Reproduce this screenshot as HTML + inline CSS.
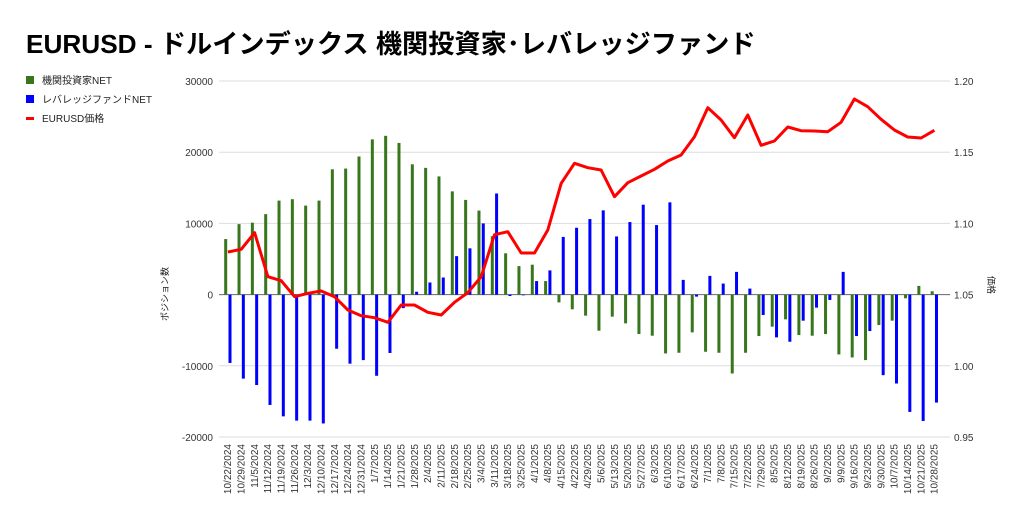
<!DOCTYPE html>
<html><head><meta charset="utf-8"><style>
body{margin:0;background:#fff;width:1024px;height:517px;overflow:hidden;font-family:"Liberation Sans","Noto Sans CJK JP",sans-serif}
</style></head><body>
<svg id="s" width="1024" height="517" xmlns="http://www.w3.org/2000/svg" font-family="Liberation Sans, Noto Sans CJK JP, sans-serif">
<text x="26" y="53" font-size="26.2" font-weight="bold" fill="#000">EURUSD - ドルインデックス 機関投資家･レバレッジファンド</text>
<rect x="26" y="76" width="8" height="8" fill="#38761d"/><text x="42" y="84" font-size="10" fill="#222">機関投資家NET</text>
<rect x="26" y="95" width="8" height="8" fill="#0000ff"/><text x="42" y="103" font-size="10" fill="#222">レバレッジファンドNET</text>
<rect x="26" y="117" width="8" height="3" fill="#ff0000"/><text x="42" y="122" font-size="10" fill="#222">EURUSD価格</text>
<text transform="translate(168,294) rotate(-90)" font-size="9" text-anchor="middle" fill="#222">ポジション数</text>
<text transform="translate(988,285) rotate(90)" font-size="9" text-anchor="middle" fill="#222">価格</text>
<g id="g"></g>
</svg>
<script>
var g=document.getElementById('g'),h='';
var ys=[81,152.2,223.4,294.6,365.8,437],lv=['30000','20000','10000','0','-10000','-20000'],rv=['1.20','1.15','1.10','1.05','1.00','0.95'];
for(var i=0;i<6;i++){h+='<line x1="219" x2="950" y1="'+ys[i]+'" y2="'+ys[i]+'" stroke="'+(i==3?'#666':'#ddd')+'" stroke-width="1"/>';
h+='<text x="213" y="'+(ys[i]+4)+'" font-size="10" text-anchor="end" fill="#333">'+lv[i]+'</text>';
h+='<text x="954" y="'+(ys[i]+4)+'" font-size="10" fill="#333">'+rv[i]+'</text>';}
var G=[718,737,782,740,760,792,797,850,848,787,845,848,910,848,798,770,748,795,797,792,853,862,870,765,752,685,648,664];
var B=[474,448,422,500,457,405,466,398,630,680,618,641,606,656,735,802,815,752,713,690,606,798,783,915,940,1025,1052,997];
var R=[280,293,300,380,338,318,298,273,255,200,113,150,203,135,226,213,171,182,183,185,157,87,110,148,180,201,204,181];
var g1=[7.8,9.9,10.1,11.3,13.2,13.4,12.5,13.2,17.6,17.7,19.4,21.8,22.3,21.3,18.3,17.8,16.6,14.5,13.3,11.8,8.2,5.8,4.0,4.2,1.9,-1.1];
var b1=[-9.6,-11.8,-12.7,-15.5,-17.1,-17.7,-17.7,-18.1,-7.6,-9.7,-9.2,-11.4,-8.2,-1.9,0.4,1.7,2.4,5.4,6.5,10.0,14.2,-0.2,-0.1,1.9,3.4,8.1];
var r1=[546,538,488,620,632,680,670,663,680,720,737,743,757,705,705,727,735,697,668,620,494,485,549,549,480,340];
var gv=g1.slice(),bv=b1.slice(),rp=[];
for(var i=0;i<26;i++)rp.push(70+r1[i]/3);
for(var k=0;k<28;k++){gv.push((674-G[k])/21.3);bv.push((674-B[k])/21.3);rp.push(70+R[k]/3);}
var Z=294.6,S=7.12,pts=[];
var d=new Date(2024,9,22);
for(var i=0;i<54;i++){var x=225.7+13.33*i;
function bar(cx,v,c){var y=Z-v*S;var t=Math.min(y,Z),hh=Math.abs(y-Z);h+='<rect x="'+(cx-1.5)+'" y="'+t+'" width="3" height="'+hh+'" fill="'+c+'"/>';}
bar(x,gv[i],'#38761d');bar(x+4.3,bv[i],'#0000ff');
pts.push((x+2.2).toFixed(1)+','+rp[i].toFixed(1));
var lab=(d.getMonth()+1)+'/'+d.getDate()+'/'+d.getFullYear();d.setDate(d.getDate()+7);
h+='<text transform="translate('+(x+5.5)+',444) rotate(-90)" font-size="10" text-anchor="end" fill="#333">'+lab+'</text>';}
h+='<polyline points="'+pts.join(' ')+'" fill="none" stroke="#ff0000" stroke-width="3" stroke-linejoin="round"/>';
g.innerHTML=h;
</script>
</body></html>
